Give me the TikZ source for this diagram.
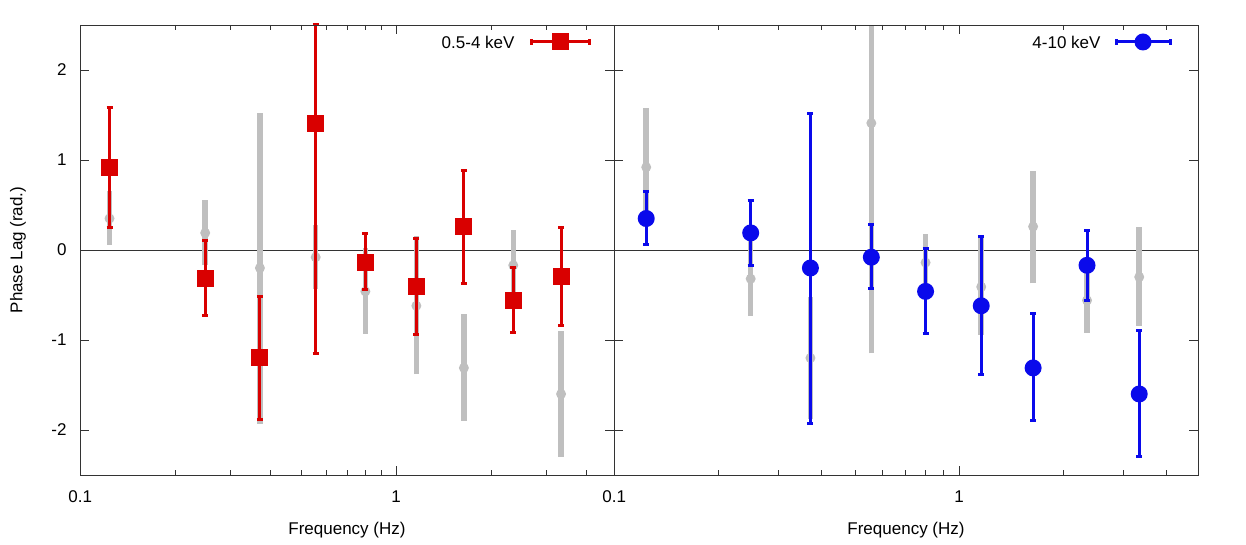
\documentclass[tikz,border=0pt]{standalone}
\usepackage{fontspec}
\setmainfont{Liberation Sans}
\colorlet{redlag}{red!85!black}
\definecolor{bluelag}{RGB}{10,10,235}
\colorlet{greylag}{black!25}
\tikzset{
  frame/.style={draw=black!80,line width=0.8pt},
  tick/.style={draw=black!80,line width=0.6pt},
  lbl/.style={font=\fontsize{17}{19}\selectfont},
  bar/.style={line width=3pt},
  greybar/.style={greylag,line width=5.5pt},
}
% value -> y, frequency -> x (left / right panel)
\newcommand{\vy}[1]{295+90*(#1)}
\begin{document}
\begin{tikzpicture}[x=1pt,y=1pt]
\useasboundingbox (0,0) rectangle (1246,545);
% zero lines
\draw[tick] (80,295) -- (1198,295);
% grey bars, left panel (other band)
\foreach \f/\v/\lo/\hi in {0.124/0.35/0.06/0.65,0.249/0.19/-0.17/0.55,0.371/-0.2/-1.93/1.52,0.557/-0.08/-0.43/0.28,0.80/-0.46/-0.93/0.02,1.16/-0.62/-1.38/0.15,1.64/-1.31/-1.9/-0.71,2.35/-0.17/-0.56/0.22,3.33/-1.6/-2.3/-0.9}{
  \pgfmathsetmacro\xx{80+316*(log10(\f)+1)}
  \draw[greybar] (\xx,{\vy{\lo}}) -- (\xx,{\vy{\hi}});
  \fill[greylag] (\xx,{\vy{\v}}) circle (5);
}
% grey bars, right panel
\foreach \f/\v/\lo/\hi in {0.124/0.92/0.25/1.58,0.249/-0.32/-0.73/0.1,0.371/-1.2/-1.88/-0.52,0.557/1.41/-1.15/2.5,0.80/-0.14/-0.44/0.18,1.16/-0.41/-0.94/0.13,1.64/0.26/-0.37/0.88,2.35/-0.56/-0.92/-0.19,3.33/-0.3/-0.84/0.25}{
  \pgfmathsetmacro\xx{614+345*(log10(\f)+1)}
  \draw[greybar] (\xx,{\vy{\lo}}) -- (\xx,{\vy{\hi}});
  \fill[greylag] (\xx,{\vy{\v}}) circle (5);
}
% red data
\foreach \f/\v/\lo/\hi in {0.124/0.92/0.25/1.58,0.249/-0.32/-0.73/0.1,0.371/-1.2/-1.88/-0.52,0.557/1.41/-1.15/2.5,0.80/-0.14/-0.44/0.18,1.16/-0.41/-0.94/0.13,1.64/0.26/-0.37/0.88,2.35/-0.56/-0.92/-0.19,3.33/-0.3/-0.84/0.25}{
  \pgfmathsetmacro\xx{80+316*(log10(\f)+1)}
  \draw[bar,redlag] (\xx,{\vy{\lo}}) -- (\xx,{\vy{\hi}});
  \draw[bar,redlag] (\xx-3,{\vy{\lo}}) -- (\xx+3,{\vy{\lo}});
  \draw[bar,redlag] (\xx-3,{\vy{\hi}}) -- (\xx+3,{\vy{\hi}});
  \fill[redlag] (\xx-8.5,{\vy{\v}-8.5}) rectangle (\xx+8.5,{\vy{\v}+8.5});
}
% blue data
\foreach \f/\v/\lo/\hi in {0.124/0.35/0.06/0.65,0.249/0.19/-0.17/0.55,0.371/-0.2/-1.93/1.52,0.557/-0.08/-0.43/0.28,0.80/-0.46/-0.93/0.02,1.16/-0.62/-1.38/0.15,1.64/-1.31/-1.9/-0.71,2.35/-0.17/-0.56/0.22,3.33/-1.6/-2.3/-0.9}{
  \pgfmathsetmacro\xx{614+345*(log10(\f)+1)}
  \draw[bar,bluelag] (\xx,{\vy{\lo}}) -- (\xx,{\vy{\hi}});
  \draw[bar,bluelag] (\xx-3,{\vy{\lo}}) -- (\xx+3,{\vy{\lo}});
  \draw[bar,bluelag] (\xx-3,{\vy{\hi}}) -- (\xx+3,{\vy{\hi}});
  \fill[bluelag] (\xx,{\vy{\v}}) circle (8.5);
}
% frames
\draw[frame] (80,70) rectangle (614,520);
\draw[frame] (614,70) rectangle (1198,520);
% y ticks
\foreach \v in {-2,-1,0,1,2}{
  \draw[tick] (80,{\vy{\v}}) -- +(9,0);
  \draw[tick] (614,{\vy{\v}}) -- +(-9,0);
  \draw[tick] (614,{\vy{\v}}) -- +(9,0);
  \draw[tick] (1198,{\vy{\v}}) -- +(-9,0);
  \node[lbl,anchor=east] (ytick\v) at (70,{\vy{\v}}) {\v};
}
% x ticks
\foreach \xo/\d in {80/316,614/345}{
  \foreach \f in {0.2,0.3,0.4,0.5,0.6,0.7,0.8,0.9,2,3,4}{
    \pgfmathsetmacro\xx{\xo+\d*(log10(\f)+1)}
    \draw[tick] (\xx,70) -- +(0,5);
    \draw[tick] (\xx,520) -- +(0,-5);
  }
  \foreach \f in {0.1,1}{
    \pgfmathsetmacro\xx{\xo+\d*(log10(\f)+1)}
    \draw[tick] (\xx,70) -- +(0,9);
    \draw[tick] (\xx,520) -- +(0,-9);
    \node[lbl] at (\xx,48) {\f};
  }
}
% axis labels
\node[lbl] (xlabL) at (347,15) {Frequency (Hz)};
\node[lbl] (xlabR) at (906,15) {Frequency (Hz)};
\node[lbl,rotate=90] (ylab) at (18,295) {Phase Lag (rad.)};
% legends
\node[lbl,anchor=east] (legR) at (518,503) {0.5-4 keV};
\coordinate (rl) at (531,503);
\draw[bar,redlag] (rl) -- ++(58,0);
\draw[bar,redlag] (531,500) -- (531,506);
\draw[bar,redlag] (589,500) -- (589,506);
\fill[redlag] (551.5,494.5) rectangle (568.5,511.5);
\node[lbl,anchor=east] (legB) at (1104,503) {4-10 keV};
\coordinate (bl) at (1116,503);
\draw[bar,bluelag] (bl) -- ++(54,0);
\draw[bar,bluelag] (1116,500) -- (1116,506);
\draw[bar,bluelag] (1170,500) -- (1170,506);
\fill[bluelag] (1143,503) circle (8.5);
\end{tikzpicture}
\end{document}
